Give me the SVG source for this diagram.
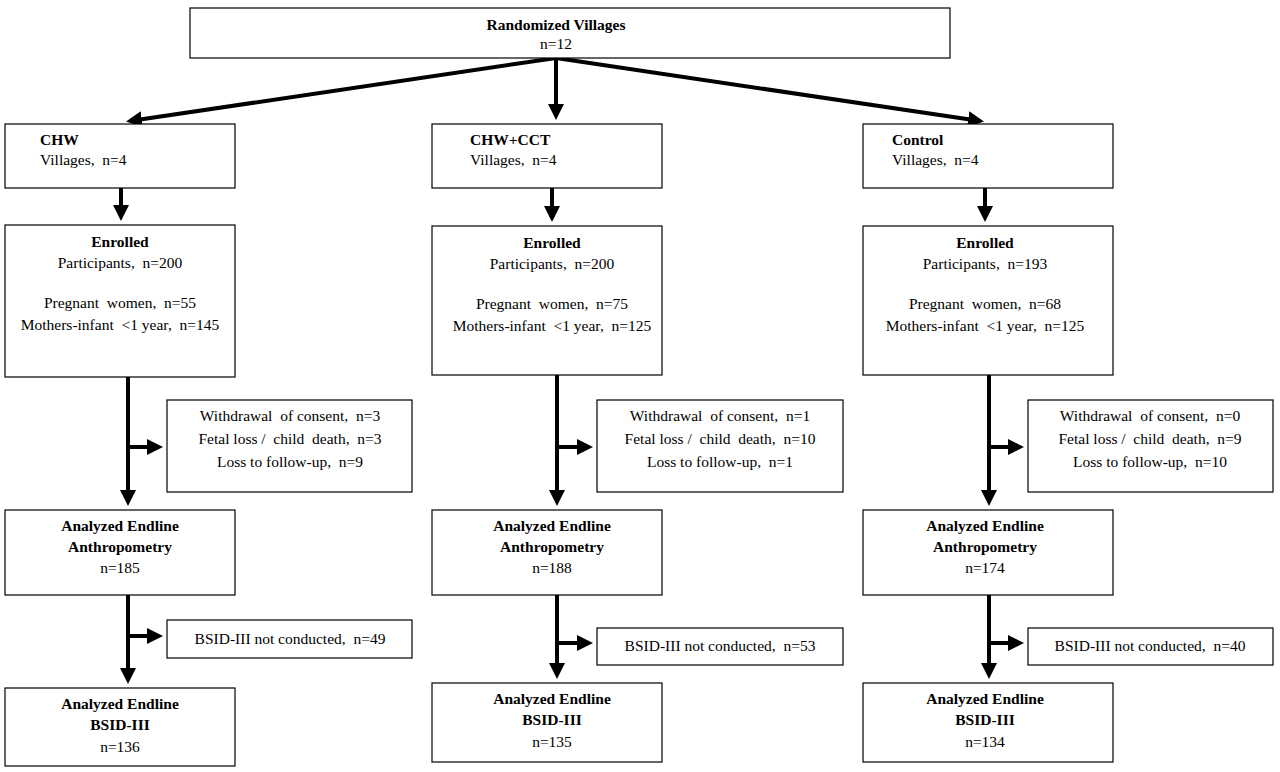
<svg xmlns="http://www.w3.org/2000/svg" width="1280" height="772" viewBox="0 0 1280 772">
<style>
rect{fill:#fff;stroke:#000;stroke-width:1.2}
text{font-family:"Liberation Serif",serif;font-size:15.5px;text-anchor:middle;fill:#000;white-space:pre}
.b{font-weight:bold}
.c line{stroke:#000;stroke-width:4}
</style>
<defs><marker id="a" markerWidth="4" markerHeight="4" refX="3" refY="2" orient="auto"><path d="M0,0L4,2L0,4Z" fill="#000"/></marker></defs>
<rect width="1280" height="772" style="stroke:none"/>
<g class="c">
<line x1="556" y1="58" x2="130" y2="121" marker-end="url(#a)"/>
<line x1="556" y1="58" x2="556" y2="116" marker-end="url(#a)"/>
<line x1="556" y1="58" x2="980" y2="121" marker-end="url(#a)"/>
<line x1="121" y1="188" x2="121" y2="217" marker-end="url(#a)"/>
<line x1="552" y1="188" x2="552" y2="218" marker-end="url(#a)"/>
<line x1="985" y1="188" x2="985" y2="218" marker-end="url(#a)"/>
<line x1="128" y1="377" x2="128" y2="502" marker-end="url(#a)"/>
<line x1="128" y1="447" x2="159" y2="447" marker-end="url(#a)"/>
<line x1="557" y1="375" x2="557" y2="502" marker-end="url(#a)"/>
<line x1="557" y1="447" x2="589" y2="447" marker-end="url(#a)"/>
<line x1="989" y1="375" x2="989" y2="502" marker-end="url(#a)"/>
<line x1="989" y1="447" x2="1020" y2="447" marker-end="url(#a)"/>
<line x1="128" y1="595" x2="128" y2="680" marker-end="url(#a)"/>
<line x1="128" y1="636" x2="159" y2="636" marker-end="url(#a)"/>
<line x1="557" y1="595" x2="557" y2="675" marker-end="url(#a)"/>
<line x1="557" y1="643" x2="589" y2="643" marker-end="url(#a)"/>
<line x1="989" y1="595" x2="989" y2="675" marker-end="url(#a)"/>
<line x1="989" y1="643" x2="1020" y2="643" marker-end="url(#a)"/>
</g>
<g id="top"><rect x="190" y="8" width="760" height="50"/><text x="556" y="30" class="b">Randomized Villages</text><text x="556" y="49">n=12</text></g>
<g id="chw"><rect x="5" y="124" width="230" height="64"/><text x="40" y="145" class="b" style="text-anchor:start">CHW</text><text x="40" y="165" style="text-anchor:start">Villages,  n=4</text></g>
<g id="cct"><rect x="432" y="124" width="230" height="64"/><text x="470" y="145" class="b" style="text-anchor:start">CHW+CCT</text><text x="470" y="165" style="text-anchor:start">Villages,  n=4</text></g>
<g id="ctl"><rect x="863" y="124" width="250" height="64"/><text x="892" y="145" class="b" style="text-anchor:start">Control</text><text x="892" y="165" style="text-anchor:start">Villages,  n=4</text></g>
<g id="e1"><rect x="5" y="225" width="230" height="152"/><text x="120" y="247" class="b">Enrolled</text><text x="120" y="268">Participants,  n=200</text><text x="120" y="308">Pregnant  women,  n=55</text><text x="120" y="330">Mothers-infant  &lt;1 year,  n=145</text></g>
<g id="e2"><rect x="432" y="226" width="230" height="149"/><text x="552" y="248" class="b">Enrolled</text><text x="552" y="269">Participants,  n=200</text><text x="552" y="309">Pregnant  women,  n=75</text><text x="552" y="331">Mothers-infant  &lt;1 year,  n=125</text></g>
<g id="e3"><rect x="863" y="226" width="250" height="149"/><text x="985" y="248" class="b">Enrolled</text><text x="985" y="269">Participants,  n=193</text><text x="985" y="309">Pregnant  women,  n=68</text><text x="985" y="331">Mothers-infant  &lt;1 year,  n=125</text></g>
<g id="w1"><rect x="167" y="400" width="245" height="92"/><text x="290" y="421">Withdrawal  of consent,  n=3</text><text x="290" y="444">Fetal loss /  child  death,  n=3</text><text x="290" y="467">Loss to follow-up,  n=9</text></g>
<g id="w2"><rect x="597" y="400" width="246" height="92"/><text x="720" y="421">Withdrawal  of consent,  n=1</text><text x="720" y="444">Fetal loss /  child  death,  n=10</text><text x="720" y="467">Loss to follow-up,  n=1</text></g>
<g id="w3"><rect x="1028" y="400" width="245" height="92"/><text x="1150" y="421">Withdrawal  of consent,  n=0</text><text x="1150" y="444">Fetal loss /  child  death,  n=9</text><text x="1150" y="467">Loss to follow-up,  n=10</text></g>
<g id="a1"><rect x="5" y="510" width="230" height="85"/><text x="120" y="531" class="b">Analyzed Endline</text><text x="120" y="552" class="b">Anthropometry</text><text x="120" y="573">n=185</text></g>
<g id="a2"><rect x="432" y="510" width="230" height="85"/><text x="552" y="531" class="b">Analyzed Endline</text><text x="552" y="552" class="b">Anthropometry</text><text x="552" y="573">n=188</text></g>
<g id="a3"><rect x="863" y="510" width="250" height="85"/><text x="985" y="531" class="b">Analyzed Endline</text><text x="985" y="552" class="b">Anthropometry</text><text x="985" y="573">n=174</text></g>
<g id="b1"><rect x="167" y="620" width="245" height="38"/><text x="290" y="644">BSID-III not conducted,  n=49</text></g>
<g id="b2"><rect x="597" y="628" width="246" height="37"/><text x="720" y="651">BSID-III not conducted,  n=53</text></g>
<g id="b3"><rect x="1028" y="628" width="245" height="37"/><text x="1150" y="651">BSID-III not conducted,  n=40</text></g>
<g id="f1"><rect x="5" y="688" width="230" height="78"/><text x="120" y="709" class="b">Analyzed Endline</text><text x="120" y="730" class="b">BSID-III</text><text x="120" y="752">n=136</text></g>
<g id="f2"><rect x="432" y="683" width="230" height="79"/><text x="552" y="704" class="b">Analyzed Endline</text><text x="552" y="725" class="b">BSID-III</text><text x="552" y="747">n=135</text></g>
<g id="f3"><rect x="863" y="683" width="250" height="79"/><text x="985" y="704" class="b">Analyzed Endline</text><text x="985" y="725" class="b">BSID-III</text><text x="985" y="747">n=134</text></g>
</svg>
